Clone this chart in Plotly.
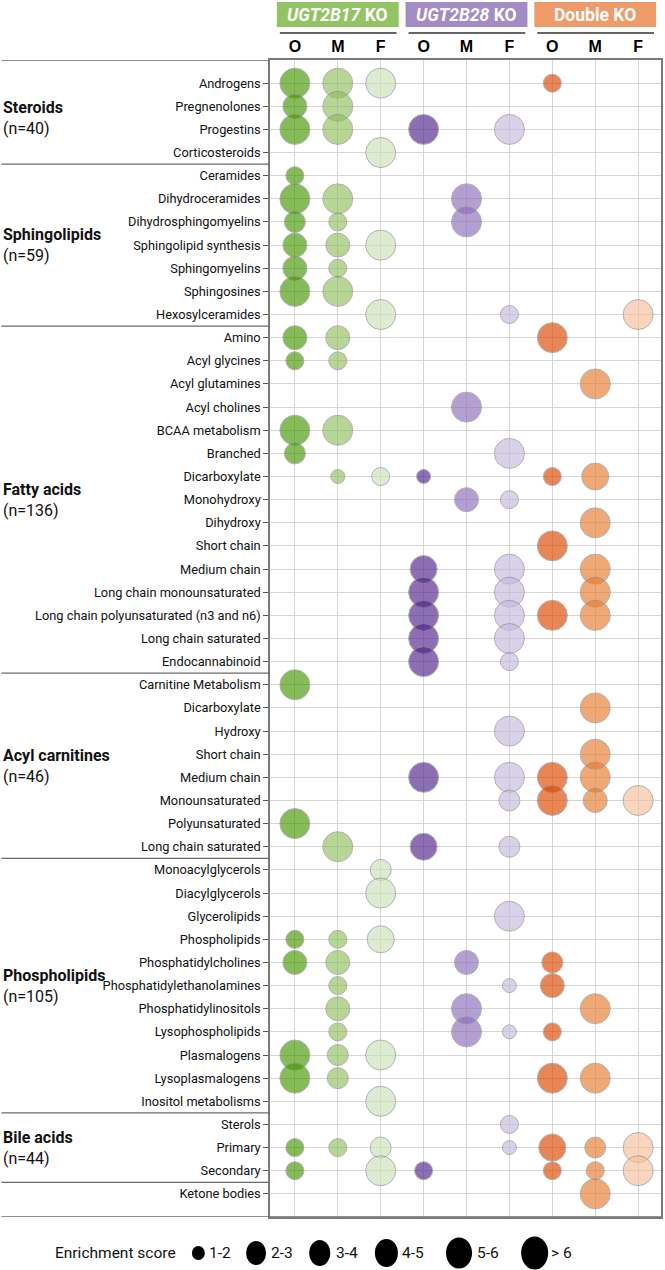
import plotly.graph_objects as go

# ---- data -------------------------------------------------------------
categories = [
    # Steroids
    "Androgens", "Pregnenolones", "Progestins", "Corticosteroids",
    # Sphingolipids
    "Ceramides", "Dihydroceramides", "Dihydrosphingomyelins", "Sphingolipid synthesis",
    "Sphingomyelins", "Sphingosines", "Hexosylceramides",
    # Fatty acids
    "Amino", "Acyl glycines", "Acyl glutamines", "Acyl cholines", "BCAA metabolism",
    "Branched", "Dicarboxylate", "Monohydroxy", "Dihydroxy", "Short chain",
    "Medium chain", "Long chain monounsaturated", "Long chain polyunsaturated (n3 and n6)",
    "Long chain saturated", "Endocannabinoid",
    # Acyl carnitines
    "Carnitine Metabolism", "Dicarboxylate", "Hydroxy", "Short chain", "Medium chain",
    "Monounsaturated", "Polyunsaturated", "Long chain saturated",
    # Phospholipids
    "Monoacylglycerols", "Diacylglycerols", "Glycerolipids", "Phospholipids",
    "Phosphatidylcholines", "Phosphatidylethanolamines", "Phosphatidylinositols",
    "Lysophospholipids", "Plasmalogens", "Lysoplasmalogens", "Inositol metabolisms",
    # Bile acids
    "Sterols", "Primary", "Secondary",
    # other
    "Ketone bodies",
]

group_names = ["Steroids", "Sphingolipids", "Fatty acids", "Acyl carnitines",
               "Phospholipids", "Bile acids", ""]
group_counts = ["40", "59", "136", "46", "105", "44", ""]
group_sizes = [4, 7, 15, 8, 11, 3, 1]

models = ["<i>UGT2B17</i> KO", "<i>UGT2B28</i> KO", "Double KO"]
tissues = ["O", "M", "F"]

# enrichment class per category (0 = not enriched, 1 = "1-2" ... 6 = "> 6")
b17_O = [6, 4, 6, 0,  2, 6, 3, 4, 4, 6, 0,
         4, 2, 0, 0, 6, 3, 0, 0, 0, 0, 0, 0, 0, 0, 0,
         6, 0, 0, 0, 0, 0, 6, 0,
         0, 0, 0, 2, 4, 0, 0, 0, 6, 6, 0,
         0, 2, 2,  0]
b17_M = [6, 6, 6, 0,  0, 6, 2, 4, 2, 6, 0,
         4, 2, 0, 0, 6, 0, 1, 0, 0, 0, 0, 0, 0, 0, 0,
         0, 0, 0, 0, 0, 0, 0, 6,
         0, 0, 0, 2, 4, 2, 4, 2, 3, 3, 0,
         0, 2, 0,  0]
b17_F = [6, 0, 0, 6,  0, 0, 0, 6, 0, 0, 6,
         0, 0, 0, 0, 0, 0, 2, 0, 0, 0, 0, 0, 0, 0, 0,
         0, 0, 0, 0, 0, 0, 0, 0,
         3, 6, 0, 5, 0, 0, 0, 0, 6, 0, 6,
         0, 3, 6,  0]
b28_O = [0, 0, 6, 0,  0, 0, 0, 0, 0, 0, 0,
         0, 0, 0, 0, 0, 0, 1, 0, 0, 0, 5, 6, 6, 6, 6,
         0, 0, 0, 0, 6, 0, 0, 5,
         0, 0, 0, 0, 0, 0, 0, 0, 0, 0, 0,
         0, 0, 2,  0]
b28_M = [0, 0, 0, 0,  0, 6, 6, 0, 0, 0, 0,
         0, 0, 0, 6, 0, 0, 0, 4, 0, 0, 0, 0, 0, 0, 0,
         0, 0, 0, 0, 0, 0, 0, 0,
         0, 0, 0, 0, 4, 0, 6, 6, 0, 0, 0,
         0, 0, 0,  0]
b28_F = [0, 0, 6, 0,  0, 0, 0, 0, 0, 0, 2,
         0, 0, 0, 0, 0, 6, 0, 2, 0, 0, 6, 6, 6, 6, 2,
         0, 0, 6, 0, 6, 3, 0, 3,
         0, 0, 6, 0, 0, 1, 0, 1, 0, 0, 0,
         2, 1, 0,  0]
dko_O = [2, 0, 0, 0,  0, 0, 0, 0, 0, 0, 0,
         6, 0, 0, 0, 0, 0, 2, 0, 0, 6, 0, 0, 6, 0, 0,
         0, 0, 0, 0, 6, 6, 0, 0,
         0, 0, 0, 0, 3, 4, 0, 2, 0, 6, 0,
         0, 5, 2,  0]
dko_M = [0, 0, 0, 0,  0, 0, 0, 0, 0, 0, 0,
         0, 0, 6, 0, 0, 0, 5, 0, 6, 0, 6, 6, 6, 0, 0,
         0, 6, 0, 6, 6, 4, 0, 0,
         0, 0, 0, 0, 0, 0, 6, 0, 0, 6, 0,
         0, 3, 2,  6]
dko_F = [0, 0, 0, 0,  0, 0, 0, 0, 0, 0, 6,
         0, 0, 0, 0, 0, 0, 0, 0, 0, 0, 0, 0, 0, 0, 0,
         0, 0, 0, 0, 0, 6, 0, 0,
         0, 0, 0, 0, 0, 0, 0, 0, 0, 0, 0,
         0, 6, 6,  0]

legend_bins = ["1-2", "2-3", "3-4", "4-5", "5-6", "> 6"]

# ---- styling ----------------------------------------------------------
columns = [b17_O, b17_M, b17_F, b28_O, b28_M, b28_F, dko_O, dko_M, dko_F]
fills = ["#459700", "#91bf5e", "#cce2b7",
         "#50238c", "#8c6dba", "#c6badc",
         "#dc4700", "#e87c30", "#f6c09b"]
header_colors = ["#93c463", "#a38bc5", "#ee9b69"]
diam = {1: 14, 2: 18, 3: 21, 4: 24, 5: 27, 6: 30}
legend_w = [13, 20, 21, 23, 26, 27]
legend_h = [14, 24, 26, 28, 31, 33]

FONT = "Roboto, Liberation Sans, Arial, sans-serif"
W, H = 665, 1270
ML, MR, MT, MB = 270, 2, 60, 53
PW, PH = W - ML - MR, H - MT - MB


def px_x(px):
    return (px - ML) / PW


def px_y(py):
    return (H - MB - py) / PH


fig = go.Figure()

for ci, scores in enumerate(columns):
    ys = [i for i, s in enumerate(scores) if s > 0]
    fig.add_trace(go.Scatter(
        x=[ci] * len(ys), y=ys, mode="markers",
        marker=dict(size=[diam[scores[i]] for i in ys], color=fills[ci], opacity=0.65,
                    line=dict(color="#8a8a8a", width=1)),
        hoverinfo="skip", showlegend=False, cliponaxis=False))

shapes = []
annotations = []

# header boxes, underline and titles
for gi, name in enumerate(models):
    c0, c1 = gi * 3, gi * 3 + 2
    shapes.append(dict(type="rect", xref="x", yref="paper", x0=c0 - 0.42, x1=c1 + 0.42,
                       y0=px_y(27), y1=px_y(2), fillcolor=header_colors[gi], line_width=0))
    shapes.append(dict(type="line", xref="x", yref="paper", x0=c0 - 0.35, x1=c1 + 0.37,
                       y0=px_y(33), y1=px_y(33), line=dict(color="#333333", width=1.6)))
    annotations.append(dict(x=c0 + 1, y=px_y(14.5), xref="x", yref="paper", text=f"<b>{name}</b>",
                            showarrow=False, font=dict(family=FONT, size=17.5, color="white"),
                            xanchor="center", yanchor="middle"))

# group labels and separators
start = 0
for name, n, size in zip(group_names, group_counts, group_sizes):
    mid = start + (size - 1) / 2
    if name:
        annotations.append(dict(x=px_x(0), y=mid, xref="paper", yref="y",
                                text=f"<b>{name}</b><br>(n={n})", align="left",
                                showarrow=False, xanchor="left", yanchor="middle",
                                font=dict(family=FONT, size=16, color="#111111")))
    start += size
    if start < len(categories):
        shapes.append(dict(type="line", xref="paper", yref="y", x0=px_x(0), x1=0,
                           y0=start - 0.5, y1=start - 0.5, line=dict(color="#6a6a6a", width=1.3)))
shapes.append(dict(type="line", xref="paper", yref="y", x0=px_x(0), x1=0, y0=-1, y1=-1,
                   line=dict(color="#6a6a6a", width=1.3)))
shapes.append(dict(type="line", xref="paper", yref="y", x0=px_x(0), x1=1, y0=49, y1=49,
                   line=dict(color="#6a6a6a", width=1.3)))

# size legend
legend_cx = [198, 256, 320, 387, 460, 536]
legend_tx = [207, 269, 334, 401, 476, 550]
ly = px_y(1253)
annotations.append(dict(x=px_x(52), y=ly, xref="paper", yref="paper", text="Enrichment score",
                        showarrow=False, xanchor="left", yanchor="middle",
                        font=dict(family=FONT, size=15.5, color="#111111")))
for b, cx, tx, w, h in zip(legend_bins, legend_cx, legend_tx, legend_w, legend_h):
    shapes.append(dict(type="circle", xref="paper", yref="paper", xsizemode="pixel",
                       ysizemode="pixel", xanchor=px_x(cx), yanchor=ly,
                       x0=-w / 2, x1=w / 2, y0=-h / 2, y1=h / 2,
                       fillcolor="black", line_width=0))
    annotations.append(dict(x=px_x(tx), y=ly, xref="paper", yref="paper", text=b,
                            showarrow=False, xanchor="left", yanchor="middle",
                            font=dict(family=FONT, size=15.5, color="#111111")))

fig.update_layout(
    width=W, height=H,
    margin=dict(l=ML, r=MR, t=MT, b=MB),
    plot_bgcolor="white", paper_bgcolor="white",
    font=dict(family=FONT, size=12.8, color="#111111"),
    shapes=shapes, annotations=annotations,
    xaxis=dict(side="top", range=[-0.58, 8.533], tickvals=list(range(9)),
               ticktext=[f"<b>{t}</b>" for t in tissues * 3],
               tickfont=dict(family="Liberation Sans, Arial", size=16, color="black"),
               ticks="", showgrid=True, gridcolor="#d6d6d6", gridwidth=1, zeroline=False,
               showline=True, linecolor="#7a7a7a", linewidth=1.5, mirror=True),
    yaxis=dict(range=[49, -1], tickvals=list(range(len(categories))), ticktext=categories,
               tickfont=dict(family=FONT, size=12.8, color="#111111"),
               ticks="outside", ticklen=5, tickcolor="#555555",
               showgrid=True, gridcolor="#d6d6d6", gridwidth=1, zeroline=False,
               showline=True, linecolor="#7a7a7a", linewidth=1.5, mirror=True),
)

# page body margin would shift the 665 px figure by 8 px
fig.write_html("out.html", config={"displayModeBar": False},
               post_script="document.body.style.margin='0px';")
